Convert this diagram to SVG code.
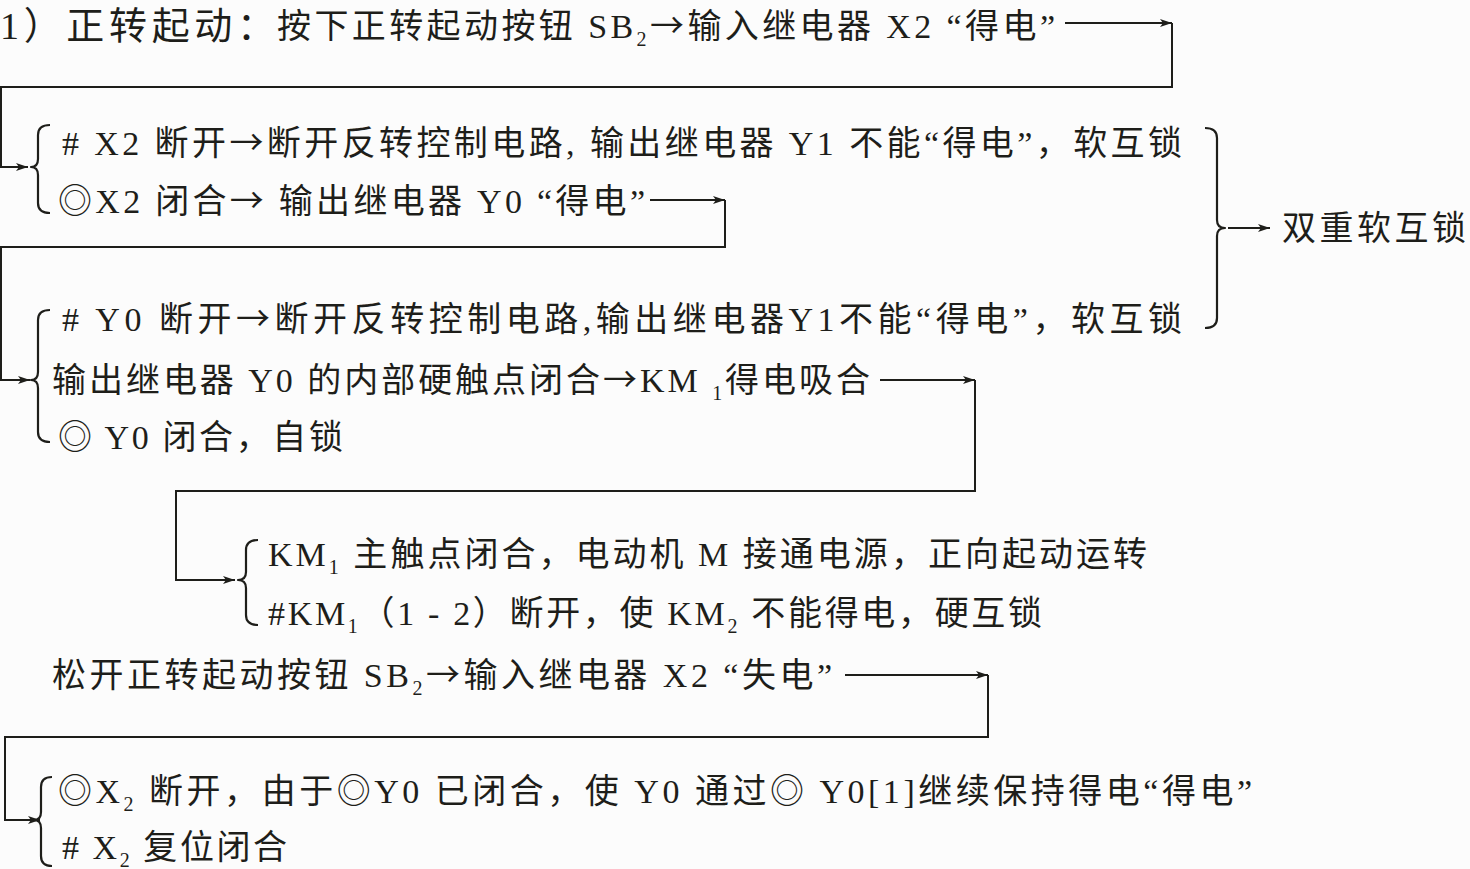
<svg xmlns="http://www.w3.org/2000/svg" width="1470" height="869" viewBox="0 0 1470 869">
<style>
.t{font-family:"Liberation Serif","Noto Sans CJK SC",serif;font-size:34px;fill:#1e1e1a}
.h{font-size:38px}
.s{font-size:20px}
.ar{font-family:"Noto Sans CJK SC","DejaVu Sans",sans-serif}
.c{fill:none;stroke:#1e1e1a;stroke-width:2}
.b{fill:none;stroke:#1e1e1a;stroke-width:2.2;stroke-linejoin:round}
</style>
<defs>
<marker id="ah" viewBox="0 0 12 8" refX="12" refY="4" markerWidth="12" markerHeight="8" markerUnits="userSpaceOnUse" orient="auto">
<path d="M0,0 L12,4 L0,8 L3,4 z" fill="#1e1e1a"/>
</marker>
</defs>
<rect width="1470" height="869" fill="#fcfcfc"/>

<g id="connectors">
<path class="c" d="M1065,23 H1172" marker-end="url(#ah)"/>
<path class="c" d="M1172,23 V87 H1 V167 H28" marker-end="url(#ah)"/>
<path class="c" d="M650,200 H725" marker-end="url(#ah)"/>
<path class="c" d="M725,200 V247 H1 V380 H30" marker-end="url(#ah)"/>
<path class="c" d="M880,380 H975" marker-end="url(#ah)"/>
<path class="c" d="M975,380 V491 H176 V580 H235" marker-end="url(#ah)"/>
<path class="c" d="M845,675 H988" marker-end="url(#ah)"/>
<path class="c" d="M988,675 V737 H5 V820 H40" marker-end="url(#ah)"/>
<path class="c" d="M1228,228 H1270" marker-end="url(#ah)"/>
</g>

<g id="braces">
<path class="b" d="M50,125 Q38,125 38,135 L38,159 Q38,167 31,167 Q38,167 38,175 L38,203 Q38,213 50,213"/>
<path class="b" d="M50,310 Q38,310 38,320 L38,372 Q38,380 31,380 Q38,380 38,388 L38,432 Q38,442 50,442"/>
<path class="b" d="M258,540 Q246,540 246,550 L246,572 Q246,580 238,580 Q246,580 246,588 L246,615 Q246,625 258,625"/>
<path class="b" d="M52,777 Q41,777 41,787 L41,812 Q41,820 34,820 Q41,820 41,828 L41,856 Q41,866 52,866"/>
<path class="b" d="M1205,128 Q1217,128 1217,138 L1217,220 Q1217,228 1225,228 Q1217,228 1217,236 L1217,318 Q1217,328 1205,328"/>
</g>

<g id="n1">
<text class="t h" x="0" y="39" textLength="275" lengthAdjust="spacing">1）正转起动：</text>
<text class="t" x="277" y="38" textLength="778" lengthAdjust="spacing">按下正转起动按钮 SB<tspan class="s" dy="8">2</tspan><tspan dy="-8" class="ar">→</tspan>输入继电器 X2 “得电”</text>
</g>

<g id="n2">
<text class="t" x="62" y="155" textLength="1120" lengthAdjust="spacing"># X2 断开<tspan class="ar">→</tspan>断开反转控制电路, 输出继电器 Y1 不能“得电”，软互锁</text>
</g>

<g id="n3">
<text class="t" x="58" y="213" textLength="587" lengthAdjust="spacing">◎X2 闭合<tspan class="ar">→</tspan> 输出继电器 Y0 “得电”</text>
</g>

<g id="n4">
<text class="t" x="1282" y="240" textLength="184" lengthAdjust="spacing">双重软互锁</text>
</g>

<g id="n5">
<text class="t" x="62" y="331" textLength="1120" lengthAdjust="spacing"># Y0 断开<tspan class="ar">→</tspan>断开反转控制电路,输出继电器Y1不能“得电”，软互锁</text>
</g>

<g id="n6">
<text class="t" x="52" y="392" textLength="818" lengthAdjust="spacing">输出继电器 Y0 的内部硬触点闭合<tspan class="ar">→</tspan>KM <tspan class="s" dy="8">1</tspan><tspan dy="-8">得电吸合</tspan></text>
</g>

<g id="n7">
<text class="t" x="58" y="449" textLength="285" lengthAdjust="spacing">◎ Y0 闭合，自锁</text>
</g>

<g id="n8">
<text class="t" x="268" y="566" textLength="879" lengthAdjust="spacing">KM<tspan class="s" dy="8">1</tspan><tspan dy="-8"> 主触点闭合，电动机 M 接通电源，正向起动运转</tspan></text>
</g>

<g id="n9">
<text class="t" x="268" y="625" textLength="774" lengthAdjust="spacing">#KM<tspan class="s" dy="8">1</tspan><tspan dy="-8">（1 - 2）断开，使 KM</tspan><tspan class="s" dy="8">2</tspan><tspan dy="-8"> 不能得电，硬互锁</tspan></text>
</g>

<g id="n10">
<text class="t" x="52" y="687" textLength="780" lengthAdjust="spacing">松开正转起动按钮 SB<tspan class="s" dy="8">2</tspan><tspan dy="-8" class="ar">→</tspan>输入继电器 X2 “失电”</text>
</g>

<g id="n11">
<text class="t" x="58" y="803" textLength="1194" lengthAdjust="spacing">◎X<tspan class="s" dy="8">2</tspan><tspan dy="-8"> 断开，由于◎Y0 已闭合，使 Y0 通过◎ Y0[1]继续保持得电“得电”</tspan></text>
</g>

<g id="n12">
<text class="t" x="62" y="859" textLength="225" lengthAdjust="spacing"># X<tspan class="s" dy="8">2</tspan><tspan dy="-8"> 复位闭合</tspan></text>
</g>
</svg>
